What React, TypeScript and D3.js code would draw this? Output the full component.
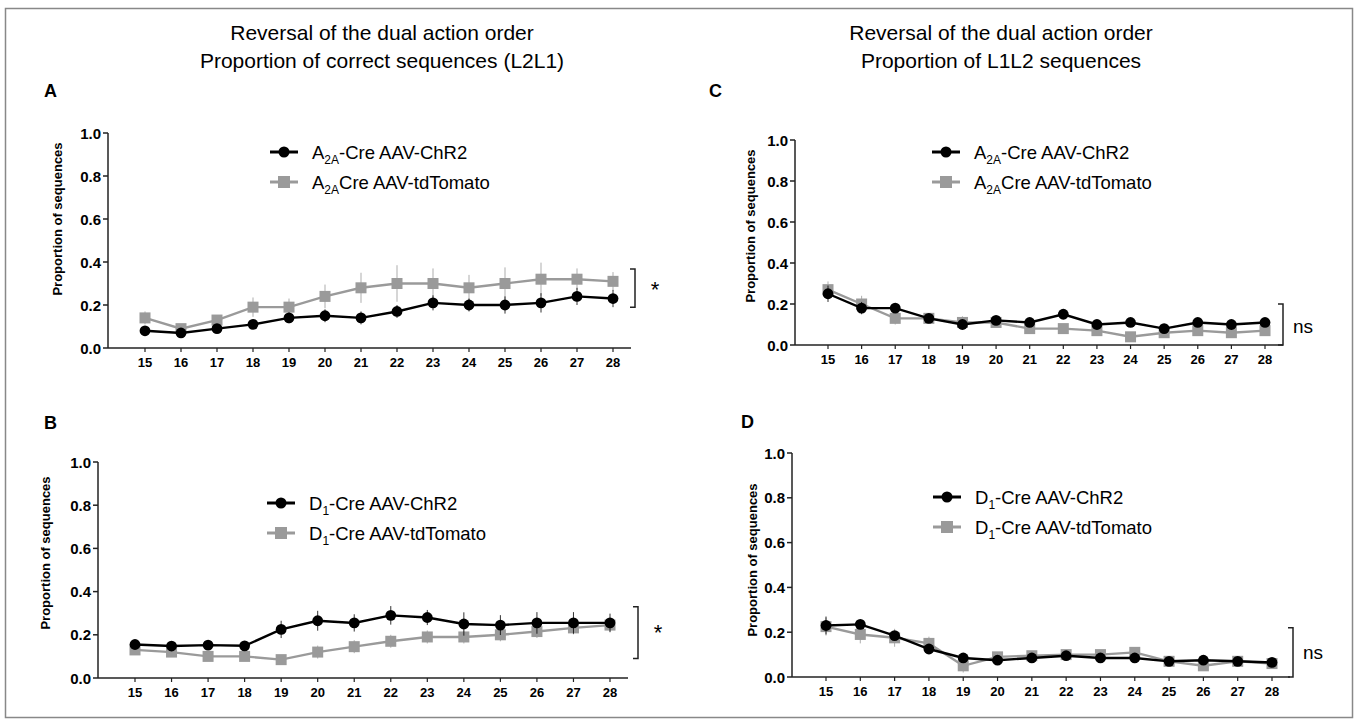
import * as d3 from "d3";

const sessions = [15, 16, 17, 18, 19, 20, 21, 22, 23, 24, 25, 26, 27, 28];

// panel A : correct sequences (L2L1), A2A
const aChR2 = [0.08, 0.07, 0.09, 0.11, 0.14, 0.15, 0.14, 0.17, 0.21, 0.2, 0.2, 0.21, 0.24, 0.23];
const aChR2Err = [0.02, 0.02, 0.02, 0.02, 0.025, 0.03, 0.03, 0.03, 0.035, 0.03, 0.04, 0.045, 0.04, 0.04];
const aTomato = [0.14, 0.09, 0.13, 0.19, 0.19, 0.24, 0.28, 0.3, 0.3, 0.28, 0.3, 0.32, 0.32, 0.31];
const aTomatoErr = [0.03, 0.02, 0.02, 0.045, 0.04, 0.055, 0.07, 0.085, 0.07, 0.06, 0.075, 0.077, 0.05, 0.043];

// panel B : correct sequences (L2L1), D1
const bChR2 = [0.155, 0.148, 0.152, 0.149, 0.225, 0.265, 0.255, 0.29, 0.28, 0.25, 0.245, 0.255, 0.255, 0.255];
const bChR2Err = [0.02, 0.02, 0.02, 0.02, 0.04, 0.046, 0.04, 0.043, 0.035, 0.054, 0.046, 0.05, 0.05, 0.043];
const bTomato = [0.13, 0.12, 0.1, 0.1, 0.085, 0.12, 0.145, 0.17, 0.19, 0.19, 0.2, 0.215, 0.232, 0.245];
const bTomatoErr = [0.02, 0.02, 0.02, 0.02, 0.02, 0.03, 0.03, 0.03, 0.03, 0.03, 0.03, 0.03, 0.03, 0.03];

// panel C : L1L2 sequences, A2A
const cChR2 = [0.25, 0.18, 0.18, 0.13, 0.1, 0.12, 0.11, 0.15, 0.1, 0.11, 0.08, 0.11, 0.1, 0.11];
const cChR2Err = [0.04, 0.03, 0.02, 0.02, 0.02, 0.02, 0.02, 0.02, 0.02, 0.02, 0.02, 0.02, 0.02, 0.02];
const cTomato = [0.27, 0.2, 0.13, 0.13, 0.11, 0.11, 0.08, 0.08, 0.07, 0.04, 0.06, 0.07, 0.06, 0.07];
const cTomatoErr = [0.04, 0.04, 0.03, 0.02, 0.03, 0.02, 0.02, 0.02, 0.02, 0.02, 0.02, 0.02, 0.02, 0.02];

// panel D : L1L2 sequences, D1
const dChR2 = [0.23, 0.235, 0.185, 0.125, 0.085, 0.075, 0.085, 0.095, 0.085, 0.085, 0.07, 0.075, 0.07, 0.065];
const dChR2Err = [0.04, 0.02, 0.02, 0.02, 0.02, 0.02, 0.02, 0.02, 0.02, 0.02, 0.01, 0.01, 0.01, 0.01];
const dTomato = [0.225, 0.19, 0.175, 0.15, 0.05, 0.09, 0.095, 0.1, 0.1, 0.11, 0.07, 0.05, 0.07, 0.06];
const dTomatoErr = [0.04, 0.04, 0.04, 0.03, 0.03, 0.02, 0.02, 0.02, 0.02, 0.02, 0.01, 0.02, 0.01, 0.01];

const yTicks = [0, 0.2, 0.4, 0.6, 0.8, 1.0];

const titleLeft = ["Reversal of the dual action order", "Proportion of correct sequences (L2L1)"];
const titleRight = ["Reversal of the dual action order", "Proportion of L1L2 sequences"];

const legendA = [
  { main: "A", sub: "2A", rest: "-Cre AAV-ChR2" },
  { main: "A", sub: "2A", rest: "Cre AAV-tdTomato" },
];
const legendD = [
  { main: "D", sub: "1", rest: "-Cre AAV-ChR2" },
  { main: "D", sub: "1", rest: "-Cre AAV-tdTomato" },
];

const FONT = "'Liberation Sans', Arial, Helvetica, sans-serif";
const BLACK = "#000";
const GRAY = "#9a9a9a";

const panels = [
  {
    letter: "A", lx: 44, ly: 97,
    axisX: 108, y1: 133, y0: 348, x15: 145, x28: 613,
    titleY: 219, titleX: 57,
    legX: 270, legY: 152, legend: legendA,
    chr2: aChR2, chr2Err: aChR2Err, tom: aTomato, tomErr: aTomatoErr,
    brX: 635, brTop: 0.367, brBot: 0.19, sig: "*", sigY: 0.27,
  },
  {
    letter: "B", lx: 44, ly: 429,
    axisX: 98, y1: 462, y0: 678, x15: 135, x28: 610,
    titleY: 553, titleX: 45,
    legX: 267, legY: 503, legend: legendD,
    chr2: bChR2, chr2Err: bChR2Err, tom: bTomato, tomErr: bTomatoErr,
    brX: 638, brTop: 0.33, brBot: 0.09, sig: "*", sigY: 0.21,
  },
  {
    letter: "C", lx: 709, ly: 97,
    axisX: 795, y1: 140, y0: 345, x15: 828, x28: 1265,
    titleY: 226, titleX: 750,
    legX: 932, legY: 152, legend: legendA,
    chr2: cChR2, chr2Err: cChR2Err, tom: cTomato, tomErr: cTomatoErr,
    brX: 1283, brTop: 0.2, brBot: 0.0, sig: "ns", sigY: 0.09,
  },
  {
    letter: "D", lx: 741, ly: 428,
    axisX: 792, y1: 453, y0: 677, x15: 826, x28: 1272,
    titleY: 560, titleX: 752,
    legX: 933, legY: 497, legend: legendD,
    chr2: dChR2, chr2Err: dChR2Err, tom: dTomato, tomErr: dTomatoErr,
    brX: 1293, brTop: 0.22, brBot: 0.0, sig: "ns", sigY: 0.11,
  },
];

function Panel({ p }: { p: any }) {
  const x = d3.scaleLinear().domain([15, 28]).range([p.x15, p.x28]);
  const y = d3.scaleLinear().domain([0, 1]).range([p.y0, p.y1]);
  const line = d3.line<number>().x((_, i) => x(sessions[i])).y((d) => y(d));

  const series = [
    { vals: p.tom, err: p.tomErr, color: GRAY, shape: "square" },
    { vals: p.chr2, err: p.chr2Err, color: BLACK, shape: "circle" },
  ];

  return (
    <g>
      <text x={p.lx} y={p.ly} fontSize={18} fontWeight="bold" fontFamily={FONT}>{p.letter}</text>

      {/* y axis */}
      <line x1={p.axisX} y1={p.y1} x2={p.axisX} y2={p.y0} stroke="#222" strokeWidth={1.5} />
      {yTicks.map((t) => (
        <g key={t}>
          <line x1={p.axisX - 5} y1={y(t)} x2={p.axisX} y2={y(t)} stroke="#222" strokeWidth={1.5} />
          <text x={p.axisX - 7} y={y(t)} textAnchor="end" dominantBaseline="central"
            fontSize={15} fontWeight="bold" fontFamily={FONT}>{t.toFixed(1)}</text>
        </g>
      ))}
      <text transform={`translate(${p.titleX},${p.titleY}) rotate(-90)`} textAnchor="middle"
        dominantBaseline="central" fontSize={13} fontWeight="bold" fontFamily={FONT}>
        Proportion of  sequences
      </text>

      {/* x axis */}
      <line x1={p.axisX} y1={p.y0} x2={x(28) + 18} y2={p.y0} stroke="#222" strokeWidth={1.5} />
      {sessions.map((s) => (
        <g key={s}>
          <line x1={x(s)} y1={p.y0} x2={x(s)} y2={p.y0 + 4} stroke="#222" strokeWidth={1.2} />
          <text x={x(s)} y={p.y0 + 19} textAnchor="middle" fontSize={13} fontWeight="bold" fontFamily={FONT}>{s}</text>
        </g>
      ))}

      {/* series */}
      {series.map((sr, k) => (
        <g key={k}>
          {sr.vals.map((v: number, i: number) => (
            <line key={i} x1={x(sessions[i])} x2={x(sessions[i])} y1={y(v - sr.err[i])} y2={y(v + sr.err[i])}
              stroke={sr.color} strokeWidth={1} opacity={0.8} />
          ))}
          <path d={line(sr.vals) || ""} fill="none" stroke={sr.color} strokeWidth={2.4} />
          {sr.vals.map((v: number, i: number) =>
            sr.shape === "circle" ? (
              <circle key={i} cx={x(sessions[i])} cy={y(v)} r={5.4} fill={sr.color} />
            ) : (
              <rect key={i} x={x(sessions[i]) - 5.5} y={y(v) - 5.5} width={11} height={11} fill={sr.color} />
            )
          )}
        </g>
      ))}

      {/* legend */}
      {p.legend.map((l: any, i: number) => {
        const ly = p.legY + i * 30;
        const color = i === 0 ? BLACK : GRAY;
        return (
          <g key={i}>
            <line x1={p.legX} x2={p.legX + 28} y1={ly} y2={ly} stroke={color} strokeWidth={3} />
            {i === 0 ? (
              <circle cx={p.legX + 14} cy={ly} r={5.5} fill={color} />
            ) : (
              <rect x={p.legX + 8} y={ly - 6} width={12} height={12} fill={color} />
            )}
            <text x={p.legX + 42} y={ly + 7} fontSize={18.5} fontFamily={FONT}>
              {l.main}
              <tspan fontSize={12} dy={5}>{l.sub}</tspan>
              <tspan dy={-5}>{l.rest}</tspan>
            </text>
          </g>
        );
      })}

      {/* significance bracket */}
      <path d={`M${p.brX - 5},${y(p.brTop)}H${p.brX}V${y(p.brBot)}H${p.brX - 5}`} fill="none" stroke="#222" strokeWidth={1.5} />
      <text x={p.brX + (p.sig === "*" ? 20 : 10)} y={y(p.sigY)} dominantBaseline="central"
        textAnchor={p.sig === "*" ? "middle" : "start"} fontSize={p.sig === "*" ? 22 : 19} fontFamily={FONT}>
        {p.sig}
      </text>
    </g>
  );
}

export default function App() {
  return (
    <div style={{ position: "absolute", left: 0, top: 0 }}>
      <svg width={1357} height={722} style={{ display: "block", background: "#fff" }}>
        <rect x={5.5} y={8.5} width={1347} height={709} fill="none" stroke="#888" strokeWidth={1.5} />
        {titleLeft.map((t, i) => (
          <text key={i} x={382} y={40 + i * 28} textAnchor="middle" fontSize={21} fontFamily={FONT}>{t}</text>
        ))}
        {titleRight.map((t, i) => (
          <text key={i} x={1001} y={40 + i * 28} textAnchor="middle" fontSize={21} fontFamily={FONT}>{t}</text>
        ))}
        {panels.map((p) => (
          <Panel key={p.letter} p={p} />
        ))}
      </svg>
    </div>
  );
}
